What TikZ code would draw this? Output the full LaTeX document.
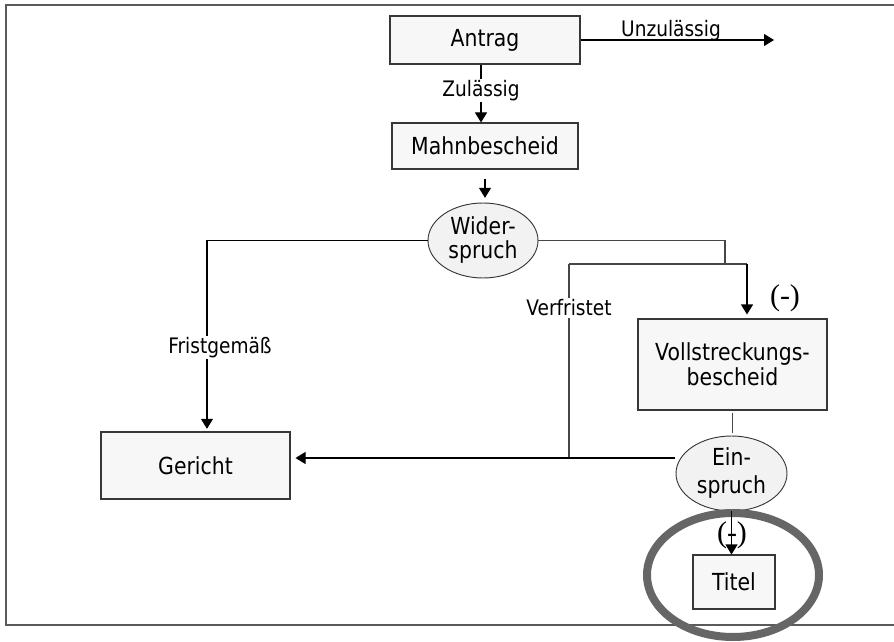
\documentclass[tikz,border=0pt]{standalone}
\usepackage{fontspec}
\setmainfont{DejaVu Sans}[FakeStretch=0.87]
\newfontfamily\parenfont{Liberation Serif}
\usetikzlibrary{shapes.geometric,arrows.meta,calc}
\definecolor{boxfill}{RGB}{247,247,247}
\definecolor{ellfill}{RGB}{242,242,242}
\definecolor{edge}{RGB}{55,55,55}
\definecolor{connc}{RGB}{70,70,70}
\definecolor{framec}{RGB}{90,90,90}
\definecolor{ringc}{RGB}{102,102,102}
\begin{document}
\begin{tikzpicture}[x=0.75pt,y=-0.75pt,
  box/.style={draw=edge, line width=0.8pt, fill=boxfill, rectangle, inner sep=0pt,
    font=\fontsize{17.6}{19}\selectfont, align=center},
  oval/.style={draw=edge, line width=0.7pt, fill=ellfill, ellipse, inner sep=0pt,
    align=center},
  lbl/.style={font=\fontsize{16}{18}\selectfont, inner sep=1pt},
  arr/.style={draw=black, line width=0.8pt, -{Triangle[length=7.5pt,width=9pt]}},
  conn/.style={draw=connc, line width=0.8pt},
  paren/.style={font=\parenfont\fontsize{22.5}{24}\selectfont, inner sep=0pt}
]
\useasboundingbox (0,0) rectangle (894,642);
% frame
\draw[framec, line width=1.5pt] (894,5) -- (6,5) -- (6,625) -- (894,625);

% nodes
\node[box, minimum width=142.5pt, minimum height=36pt] (antrag) at (485,40) {Antrag};
\node[box, minimum width=139.5pt, minimum height=34.5pt] (mahn) at (485,146) {Mahnbescheid};
\node[oval, minimum width=82.5pt, minimum height=56.25pt,
  font=\fontsize{17.6}{18}\selectfont] (wider) at (483,240.5) {Wider-\\spruch};
\node[box, minimum width=141.75pt, minimum height=68.25pt,
  font=\fontsize{17.6}{19}\selectfont] (voll) at (732.5,364.5) {Vollstreckungs-\\bescheid};
\node[box, minimum width=141.75pt, minimum height=50.25pt] (gericht) at (195.5,465.5) {Gericht};
\node[oval, minimum width=83.25pt, minimum height=56.25pt,
  font=\fontsize{17.6}{21}\selectfont] (ein) at (731.5,473.5) {Ein-\\spruch};
\node[box, minimum width=61.5pt, minimum height=40.5pt] (titel) at (734,582) {Titel};

% highlight ring
\draw[ringc, line width=6pt] (733,575) ellipse [x radius=86, y radius=62];

% coordinates
\coordinate (unz) at (774,40);
\coordinate (j1) at (725,264);
\coordinate (vl) at (569,264);
\coordinate (vr) at (747,264);
\coordinate (vb) at (569,458);
\coordinate (einl) at ([shift={(-1,-15.5)}]ein.west);

% connectors
\draw[arr] (antrag.east) -- (unz);
\node[lbl, anchor=base] (unzl) at (671,37) {Unzulässig};

\draw[arr] ([xshift=-3pt]antrag.south) -- node[lbl, fill=white, pos=0.45] (zul) {Zulässig} ([xshift=-3pt]mahn.north);

\draw[arr, shorten <=6.75pt, shorten >=3.5pt] (mahn.south) -- (mahn.south |- wider.north);

\draw[arr, shorten >=2pt] (wider.west) -| node[lbl, fill=white, pos=0.78, xshift=9.75pt] (frist) {Fristgemäß} ([xshift=8.6pt]gericht.north);

\draw[conn] (wider.east) -| (j1);
\draw[conn] (vl) -- (vr);
\draw[arr, shorten >=3pt] (vr) -- (vr |- voll.north);
\node[paren] (p1) at (785,298) {(-)};

\draw[conn] (vl) -- node[lbl, fill=white, pos=0.227] (verf) {Verfristet} (vb);
\draw[arr, shorten >=3.75pt] (einl) -- (einl -| gericht.east);

\draw[conn, shorten <=1.5pt, shorten >=2.25pt] (voll.south) -- (voll.south |- ein.north);
\draw[arr] (ein.south) -- (ein.south |- titel.north);
\node[paren] (p2) at (732,535) {(-)};
\end{tikzpicture}
\end{document}
